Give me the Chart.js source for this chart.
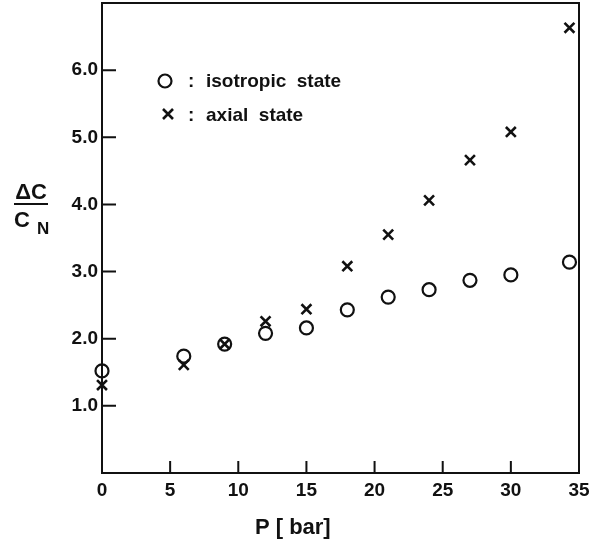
<!DOCTYPE html>
<html>
<head>
<meta charset="utf-8">
<script src="https://cdn.jsdelivr.net/npm/chart.js@4/dist/chart.umd.min.js"></script>
<style>
  body { margin: 0; background: #fff; }
  #wrap { width: 602px; height: 542px; }
</style>
</head>
<body>
<div id="wrap"><canvas id="chart" width="602" height="542"></canvas></div>
<script>
// pressure in bar
const pressure = [0, 6, 9, 12, 15, 18, 21, 24, 27, 30, 34.3];
// delta C / C_N
const isotropic = [1.52, 1.74, 1.92, 2.08, 2.16, 2.43, 2.62, 2.73, 2.87, 2.95, 3.14];
const axial = [1.31, 1.61, 1.92, 2.26, 2.44, 3.08, 3.55, 4.06, 4.66, 5.08, 6.63];

const xTickMarks = [5, 10, 15, 20, 25, 30];
const yTickMarks = [1, 2, 3, 4, 5, 6];

const FONT = '"Liberation Sans", Arial, sans-serif';
const INK = '#111';

const toPoints = ys => ys.map((y, i) => ({ x: pressure[i], y: y }));

// inside tick marks, top/right frame, axis titles and the legend
const decorations = {
  id: 'decorations',
  afterDraw(chart) {
    const { ctx, chartArea: a, scales: { x, y } } = chart;
    ctx.save();
    ctx.strokeStyle = INK;
    ctx.lineWidth = 2;
    ctx.beginPath();
    ctx.moveTo(a.left, a.top);
    ctx.lineTo(a.right, a.top);
    ctx.lineTo(a.right, a.bottom);
    xTickMarks.forEach(v => {
      const px = x.getPixelForValue(v);
      ctx.moveTo(px, a.bottom);
      ctx.lineTo(px, a.bottom - 12);
    });
    yTickMarks.forEach(v => {
      const py = y.getPixelForValue(v);
      ctx.moveTo(a.left, py);
      ctx.lineTo(a.left + 14, py);
    });
    ctx.stroke();

    ctx.fillStyle = INK;
    // x title
    ctx.font = 'bold 22px ' + FONT;
    ctx.textAlign = 'center';
    ctx.textBaseline = 'alphabetic';
    ctx.fillText('P [ bar]', x.getPixelForValue(14), 534);

    // y title as a fraction
    ctx.fillText('\u0394C', 31, 199);
    ctx.beginPath();
    ctx.moveTo(14, 204);
    ctx.lineTo(48, 204);
    ctx.stroke();
    ctx.textAlign = 'left';
    ctx.fillText('C', 14, 227);
    ctx.font = 'bold 17px ' + FONT;
    ctx.fillText('N', 37, 234);

    // legend
    ctx.lineWidth = 2.2;
    ctx.beginPath();
    ctx.arc(165, 81, 6.5, 0, Math.PI * 2);
    ctx.stroke();
    ctx.lineWidth = 2.6;
    ctx.beginPath();
    ctx.moveTo(163, 109); ctx.lineTo(173, 119);
    ctx.moveTo(173, 109); ctx.lineTo(163, 119);
    ctx.stroke();
    ctx.font = 'bold 19px ' + FONT;
    ctx.fillText(':', 188, 87);
    ctx.fillText(':', 188, 121);
    ctx.fillText('isotropic  state', 206, 87);
    ctx.fillText('axial  state', 206, 121);
    ctx.restore();
  }
};

new Chart(document.getElementById('chart'), {
  type: 'scatter',
  data: {
    datasets: [
      {
        label: 'isotropic state',
        data: toPoints(isotropic),
        pointStyle: 'circle',
        pointRadius: 6.5,
        borderColor: INK,
        backgroundColor: 'rgba(0,0,0,0)',
        borderWidth: 2.2,
        clip: false
      },
      {
        label: 'axial state',
        data: toPoints(axial),
        pointStyle: 'crossRot',
        pointRadius: 7,
        borderColor: INK,
        borderWidth: 2.6,
        clip: false
      }
    ]
  },
  options: {
    responsive: false,
    animation: false,
    layout: { autoPadding: false, padding: { top: 3, right: 23, left: 0, bottom: 0 } },
    plugins: { legend: { display: false }, tooltip: { enabled: false } },
    scales: {
      x: {
        type: 'linear',
        min: 0,
        max: 35,
        afterFit: s => { s.height = 69; s.paddingLeft = 0; s.paddingRight = 0; },
        grid: { display: false, drawTicks: false },
        border: { display: true, color: INK, width: 2 },
        ticks: {
          stepSize: 5,
          padding: 6,
          color: INK,
          font: { family: FONT, size: 19, weight: 'bold' }
        }
      },
      y: {
        min: 0,
        max: 7,
        afterFit: s => { s.width = 102; s.paddingTop = 0; s.paddingBottom = 0; },
        grid: { display: false, drawTicks: false },
        border: { display: true, color: INK, width: 2 },
        ticks: {
          stepSize: 1,
          padding: 4,
          color: INK,
          font: { family: FONT, size: 19, weight: 'bold' },
          callback: v => (yTickMarks.includes(v) ? v.toFixed(1) : '')
        }
      }
    }
  },
  plugins: [decorations]
});
</script>
</body>
</html>
